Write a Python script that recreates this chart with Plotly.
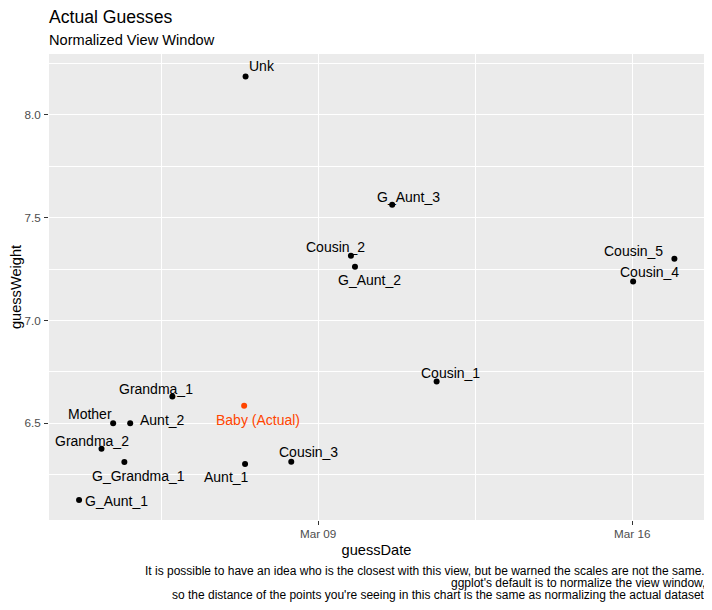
import plotly.graph_objects as go

# guesses: who, when (date + time), weight
names = ['Unk', 'G_Aunt_3', 'Cousin_2', 'G_Aunt_2', 'Cousin_5', 'Cousin_4',
         'Cousin_1', 'Grandma_1', 'Mother', 'Aunt_2', 'Grandma_2',
         'Cousin_3', 'Aunt_1', 'G_Grandma_1', 'G_Aunt_1']
guess_dates = ['2019-03-07 09:10', '2019-03-10 15:36', '2019-03-09 17:31',
               '2019-03-09 19:41', '2019-03-16 22:34', '2019-03-16 00:29',
               '2019-03-11 15:22', '2019-03-05 18:00', '2019-03-04 10:19',
               '2019-03-04 19:26', '2019-03-04 04:05', '2019-03-08 09:36',
               '2019-03-07 08:53', '2019-03-04 16:19', '2019-03-03 16:05']
guess_weights = [8.187, 7.563, 7.315, 7.261, 7.300, 7.190,
                 6.703, 6.630, 6.500, 6.500, 6.377,
                 6.313, 6.302, 6.312, 6.127]

baby_name = 'Baby (Actual)'
baby_date = '2019-03-07 08:24'
baby_weight = 6.586

x_ticks = ['2019-03-09', '2019-03-16']
x_minor = ['2019-03-05 12:00', '2019-03-12 12:00']
y_ticks = [6.5, 7.0, 7.5, 8.0]
y_minor = [6.25, 6.75, 7.25, 7.75, 8.25]

caption_lines = [
    "It is possible to have an idea who is the closest with this view, "
    "but be warned the scales are not the same.",
    "ggplot's default is to normalize the view window,",
    "so the distance of the points you're seeing in this chart is the "
    "same as normalizing the actual dataset",
]

# label nudges in pixels (dx, dy) so the text sits like the original
label_shift = [(16, 10), (16, 8), (-15, 9), (15, -13), (-41, 8), (16, 9),
               (14, 9), (-16, 8), (-23, 9), (32, 3), (-10, 8),
               (17, 10), (-19, -13), (14, -14), (37, -1)]
baby_shift = (14, -14)

FONT = 'Liberation Sans, Arial, sans-serif'
BABY_COLOR = '#FF4500'

fig = go.Figure()

fig.add_trace(go.Scatter(
    x=guess_dates, y=guess_weights, mode='markers',
    marker=dict(color='black', size=6),
    hovertext=names, showlegend=False
))
fig.add_trace(go.Scatter(
    x=[baby_date], y=[baby_weight], mode='markers',
    marker=dict(color=BABY_COLOR, size=6),
    hovertext=[baby_name], showlegend=False
))

annotations = []
for name, d, w, (dx, dy) in zip(names, guess_dates, guess_weights, label_shift):
    annotations.append(dict(
        x=d, y=w, xref='x', yref='y', text=name, showarrow=False,
        xshift=dx, yshift=dy, font=dict(size=14, color='black', family=FONT)
    ))
annotations.append(dict(
    x=baby_date, y=baby_weight, xref='x', yref='y', text=baby_name,
    showarrow=False, xshift=baby_shift[0], yshift=baby_shift[1],
    font=dict(size=14, color=BABY_COLOR, family=FONT)
))

# titles
annotations.append(dict(
    x=0, y=1, xref='paper', yref='paper', xanchor='left', yanchor='middle',
    xshift=-2, yshift=37, text='Actual Guesses', showarrow=False,
    font=dict(size=17.6, color='black', family=FONT)
))
annotations.append(dict(
    x=0, y=1, xref='paper', yref='paper', xanchor='left', yanchor='middle',
    xshift=-2, yshift=14, text='Normalized View Window', showarrow=False,
    font=dict(size=14.6, color='black', family=FONT)
))
# caption, one line each, right aligned under the panel
caption_offsets = [-51, -63, -75]
for line, off in zip(caption_lines, caption_offsets):
    annotations.append(dict(
        x=1, y=0, xref='paper', yref='paper', xanchor='right', yanchor='middle',
        xshift=2, yshift=off, text=line, showarrow=False, borderpad=0,
        font=dict(size=12, color='black', family=FONT)
    ))

# page body has an 8px margin, so the figure is 16px smaller than the window
fig.update_layout(
    width=696, height=594,
    margin=dict(l=41, r=0, t=46, b=82),
    paper_bgcolor='white',
    plot_bgcolor='#EBEBEB',
    font=dict(family=FONT, color='black'),
    annotations=annotations,
    hovermode='closest'
)

fig.update_xaxes(
    type='date',
    range=['2019-03-03 00:00', '2019-03-17 14:24'],
    tickmode='array', tickvals=x_ticks, tickformat='%b %d',
    tickfont=dict(size=11.7, color='#4D4D4D'),
    ticks='outside', ticklen=4, tickcolor='#333333', tickwidth=1,
    ticklabelstandoff=-1,
    showgrid=True, gridcolor='white', gridwidth=1.1,
    minor=dict(tickmode='array', tickvals=x_minor, showgrid=True,
               gridcolor='white', gridwidth=0.55, ticks=''),
    zeroline=False, showline=False,
    title=dict(text='guessDate', font=dict(size=14.6, color='black'), standoff=5)
)
fig.update_yaxes(
    range=[6.03, 8.296],
    tickmode='array', tickvals=y_ticks, tickformat='.1f',
    tickfont=dict(size=11.7, color='#4D4D4D'),
    ticks='outside', ticklen=4, tickcolor='#333333', tickwidth=1,
    ticklabelstandoff=1,
    showgrid=True, gridcolor='white', gridwidth=1.1,
    minor=dict(tickmode='array', tickvals=y_minor, showgrid=True,
               gridcolor='white', gridwidth=0.55, ticks=''),
    zeroline=False, showline=False,
    title=dict(text='guessWeight', font=dict(size=14.6, color='black'), standoff=0)
)

fig.write_html('out.html')
